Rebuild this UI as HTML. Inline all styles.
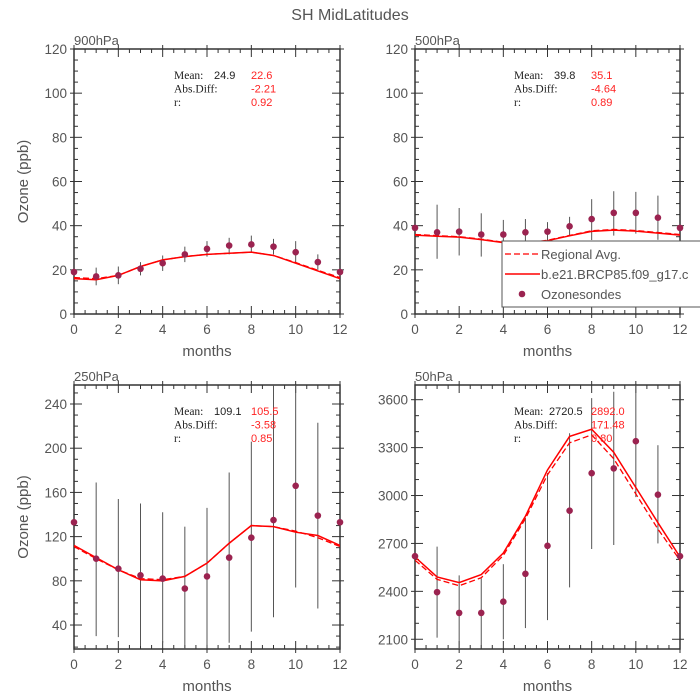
<!DOCTYPE html>
<html><head><meta charset="utf-8"><style>
body{margin:0;background:#fff}
svg{display:block;font-family:"Liberation Sans",sans-serif}
</style></head><body>
<svg id="s" width="700" height="700" viewBox="0 0 700 700">
<rect width="700" height="700" fill="#fff"/>
<text x="350" y="20" text-anchor="middle" font-size="16" fill="#555">SH MidLatitudes</text>
</svg>
<script>
const months=[0,1,2,3,4,5,6,7,8,9,10,11,12];
// 900hPa
const p900Obs=[19,17,17.5,20.5,23,27,29.5,31,31.5,30.5,28,23.5,19];
const p900Lo=[19,13,13.5,17.5,19.5,23.5,26,27,28,27,23,20,19];
const p900Hi=[19,21,21.5,23.5,26.5,30.5,33,34.5,35.5,34,33,27,19];
const p900Model=[16,15.5,17.5,21.5,24.5,26,27,27.5,28,26.5,23,19.5,16];
const p900Reg=[16.5,16,17.5,21.5,24.5,26,27,27.5,28,26.5,23.3,19.8,16.5];
const p900Stats=["24.9","22.6","-2.21","0.92"];
// 500hPa
const p500Obs=[39,37,37.3,36,36,37,37.3,39.7,43,45.8,45.8,43.6,39];
const p500Lo=[39,25,26.5,26,29,31,33,35.5,33.5,35.5,36.4,33.6,39];
const p500Hi=[39,49.5,48,45.6,42.6,43,41.6,44,52,55.6,55.3,53.6,39];
const p500Model=[35.7,35.2,34.8,33.7,32.3,32,33.2,35.4,37.4,38,37.5,36.6,35.7];
const p500Reg=[36,35.5,35,33.9,32.5,32.2,33.4,35.6,37.7,38.3,37.8,36.9,36];
const p500Stats=["39.8","35.1","-4.64","0.89"];
// 250hPa
const p250Obs=[133,100,91,85,82,73,84,101,119,135,166,139,133];
const p250Lo=[133,30,29,21,24,17,22,24,34,47,74,55,133];
const p250Hi=[133,169,154,150,142,129,146,178,206,258,260,223,133];
const p250Model=[112,101,90,81,80,84,96,114,130,129,124,121,112];
const p250Reg=[111,100,90,82,81,84,96,114,130,129,125,119,111];
const p250Stats=["109.1","105.5","-3.58","0.85"];
// 50hPa
const p50Obs=[2620,2395,2265,2265,2335,2510,2685,2905,3140,3170,3340,3005,2620];
const p50Lo=[2620,2110,2035,2045,2100,2170,2220,2425,2665,2690,2990,2700,2620];
const p50Hi=[2620,2680,2500,2480,2570,2860,3140,3390,3610,3650,3700,3315,2620];
const p50Model=[2615,2490,2455,2505,2640,2870,3160,3370,3415,3270,3050,2830,2615];
const p50Reg=[2595,2475,2435,2485,2625,2855,3130,3330,3380,3230,3010,2790,2595];
const p50Stats=["2720.5","2892.0","171.48","0.80"];

const S=document.getElementById('s');const NS='http://www.w3.org/2000/svg';
function el(t,a,p){const e=document.createElementNS(NS,t);for(const k in a)e.setAttribute(k,a[k]);(p||S).appendChild(e);return e;}
function panel(id,x0,x1,y0,y1,ymin,ymax,yTicks,yMinor,name,obs,lo,hi,model,reg,stats,ylab,statX){
  const g=el('g',{});
  
  
  const X=v=>x0+(v-0)/12*(x1-x0), Y=v=>y1-(v-ymin)/(ymax-ymin)*(y1-y0);
  const cp=el('clipPath',{id:'c'+id},g);el('rect',{x:x0,y:y0,width:x1-x0,height:y1-y0},cp);
  for(let m=0;m<=12;m+=0.5){const maj=m%2===0;const L=maj?8:4;
    el('line',{x1:X(m),x2:X(m),y1:y1,y2:y1-L,stroke:'#333','stroke-width':1},g);
    el('line',{x1:X(m),x2:X(m),y1:y0,y2:y0+L,stroke:'#333','stroke-width':1},g);
    if(maj){el('line',{x1:X(m),x2:X(m),y1:y1,y2:y1+4,stroke:'#333'},g);el('line',{x1:X(m),x2:X(m),y1:y0,y2:y0-4,stroke:'#333'},g);
      const t=el('text',{x:X(m),y:y1+20,'text-anchor':'middle','font-size':13.5,fill:'#555'},g);t.textContent=m;
      
      }
  }
  for(let v=Math.ceil(ymin/yMinor)*yMinor;v<=ymax;v+=yMinor){const maj=yTicks.includes(v);const L=maj?8:4;
    el('line',{x1:x0,x2:x0+L,y1:Y(v),y2:Y(v),stroke:'#333'},g);
    el('line',{x1:x1,x2:x1-L,y1:Y(v),y2:Y(v),stroke:'#333'},g);
    if(maj){el('line',{x1:x0,x2:x0-4,y1:Y(v),y2:Y(v),stroke:'#333'},g);el('line',{x1:x1,x2:x1+4,y1:Y(v),y2:Y(v),stroke:'#333'},g);}
  }
  yTicks.forEach(v=>{const t=el('text',{x:x0-7,y:Y(v)+5,'text-anchor':'end','font-size':13.5,fill:'#555'},g);t.textContent=v;
    
    });
  el('rect',{x:x0,y:y0,width:x1-x0,height:y1-y0,fill:'none',stroke:'#333','stroke-width':1.5},g);
  const pt=el('text',{x:x0,y:y0-4,'font-size':13,fill:'#555'},g);pt.textContent=name;
  
  
  const xl=el('text',{x:(x0+x1)/2,y:y1+42,'text-anchor':'middle','font-size':15,fill:'#555'},g);xl.textContent='months';
  
  
  if(ylab){const cy=(y0+y1)/2;const yl=el('text',{x:28,y:cy,'text-anchor':'middle','font-size':15,fill:'#555',transform:`rotate(-90 28 ${cy})`},g);yl.textContent='Ozone (ppb)';
    
    }
  const d=el('g',{'clip-path':`url(#c${id})`},g);
  months.forEach((m,i)=>{const e=el('line',{x1:X(m),x2:X(m),y1:Y(lo[i]),y2:Y(hi[i]),stroke:'#555','stroke-width':1},d);
    
    });
  const pr=el('polyline',{points:months.map((m,i)=>X(m)+','+Y(reg[i])).join(' '),fill:'none',stroke:'#f00','stroke-width':1.3,'stroke-dasharray':'6,3'},d);
  
  
  const pm=el('polyline',{points:months.map((m,i)=>X(m)+','+Y(model[i])).join(' '),fill:'none',stroke:'#f00','stroke-width':1.5},d);
  
  
  months.forEach((m,i)=>{const c=el('circle',{cx:X(m),cy:Y(obs[i]),r:3.3,fill:'#9b2350'},g);
    
    });
  const sy=y0+30,f='"Liberation Serif",serif';
  const rows=[['Mean:',stats[0],stats[1]],['Abs.Diff:','',stats[2]],['r:','',stats[3]]];
  rows.forEach((r,i)=>{const yy=sy+i*13.5;
    const a=el('text',{x:statX,y:yy,'font-size':11.5,'font-family':f,fill:'#222'},g);a.textContent=r[0];
    
    
    if(r[1]){const b=el('text',{x:statX+(r[1].length>5?35:40),y:yy,'font-size':11,fill:'#222'},g);b.textContent=r[1];
      
      }
    const c=el('text',{x:statX+77,y:yy,'font-size':11,fill:'#f22'},g);c.textContent=r[2];
    
    });
}
panel('900',74,340,49,314,0,120,[0,20,40,60,80,100,120],5,'900hPa',p900Obs,p900Lo,p900Hi,p900Model,p900Reg,p900Stats,true,174);
panel('500',415,680,49,314,0,120,[0,20,40,60,80,100,120],5,'500hPa',p500Obs,p500Lo,p500Hi,p500Model,p500Reg,p500Stats,false,514);
panel('250',74,340,385,649,18.3,257.2,[40,80,120,160,200,240],10,'250hPa',p250Obs,p250Lo,p250Hi,p250Model,p250Reg,p250Stats,true,174);
panel('50',415,680,385,649,2039,3692,[2100,2400,2700,3000,3300,3600],100,'50hPa',p50Obs,p50Lo,p50Hi,p50Model,p50Reg,p50Stats,false,514);
const lg=el('g',{});


el('rect',{x:502,y:241,width:210,height:66,fill:'#fff',stroke:'#555','stroke-width':1},lg);
el('line',{x1:505,x2:540,y1:254,y2:254,stroke:'#f00','stroke-width':1.3,'stroke-dasharray':'6,3'},lg);
el('line',{x1:505,x2:540,y1:274,y2:274,stroke:'#f00','stroke-width':1.5},lg);
el('circle',{cx:522,cy:294,r:3.3,fill:'#9b2350'},lg);
[['Regional Avg.',259],['b.e21.BRCP85.f09_g17.c',279],['Ozonesondes',299]].forEach(r=>{const t=el('text',{x:541,y:r[1],'font-size':13,fill:'#555'},lg);t.textContent=r[0];
  
  });
</script>
</body></html>
